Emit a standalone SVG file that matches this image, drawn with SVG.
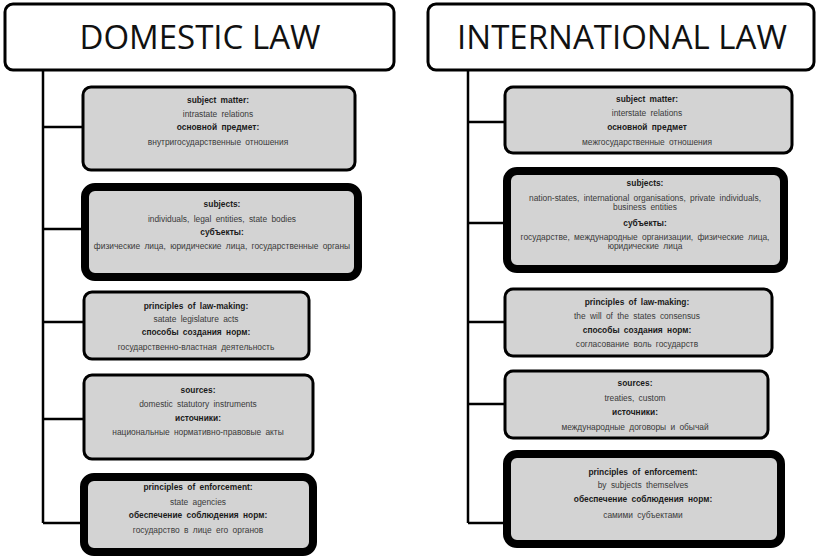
<svg xmlns="http://www.w3.org/2000/svg" width="816" height="558" viewBox="0 0 816 558">
  <style>
    .title-box { fill: #ffffff; stroke: #000; stroke-width: 3; }
    .box { fill: #d3d3d3; stroke: #000; stroke-width: 3; }
    .box-thick { fill: #d3d3d3; stroke: #000; stroke-width: 8; }
    .title { font-family: "Open Sans", "Liberation Sans", sans-serif; font-size: 33px; fill: #111; text-anchor: middle; }
    .lbl { font-family: "Liberation Sans", "Noto Sans", sans-serif; font-size: 8.4px; font-weight: bold; fill: #1a1a1a; text-anchor: middle; word-spacing: 2px; }
    .txt { font-family: "Liberation Sans", "Noto Sans", sans-serif; font-size: 8.4px; fill: #3a3a3a; text-anchor: middle; word-spacing: 2px; }
    .link { fill: none; stroke: #000; stroke-width: 2.5; }
  </style>

  <!-- connectors -->
  <g id="connectors">
    <path class="link" d="M43 70 V523 M43 127 H82 M43 229 H82 M43 322 H83 M43 419 H83 M43 523 H82"/>
    <path class="link" d="M468 70 V523 M468 122 H505 M468 223 H503 M468 322 H504 M468 404 H504 M468 523 H503"/>
  </g>

  <!-- domestic law column -->
  <g id="domestic-title">
    <rect class="title-box" x="5" y="4" width="389" height="66" rx="8"/>
    <text class="title" x="200" y="49">DOMESTIC LAW</text>
  </g>

  <g id="dom-subject-matter">
    <rect class="box" x="83" y="87" width="272" height="83" rx="8"/>
    <text class="lbl" x="218" y="103">subject matter:</text>
    <text class="txt" x="218" y="117">intrastate relations</text>
    <text class="lbl" x="218" y="130">основной предмет:</text>
    <text class="txt" x="218" y="145">внутригосударственные отношения</text>
  </g>

  <g id="dom-subjects">
    <rect class="box-thick" x="85" y="187" width="273" height="90" rx="10"/>
    <text class="lbl" x="222" y="207">subjects:</text>
    <text class="txt" x="222" y="222">individuals, legal entities, state bodies</text>
    <text class="lbl" x="222" y="235">субъекты:</text>
    <text class="txt" x="222" y="249">физические лица, юридические лица, государственные органы</text>
  </g>

  <g id="dom-law-making">
    <rect class="box" x="84" y="292" width="225" height="67" rx="8"/>
    <text class="lbl" x="196" y="309">principles of law-making:</text>
    <text class="txt" x="196" y="322">satate legislature acts</text>
    <text class="lbl" x="196" y="335">способы создания норм:</text>
    <text class="txt" x="196" y="350">государственно-властная деятельность</text>
  </g>

  <g id="dom-sources">
    <rect class="box" x="84" y="375" width="229" height="84" rx="8"/>
    <text class="lbl" x="198" y="393">sources:</text>
    <text class="txt" x="198" y="407">domestic statutory instruments</text>
    <text class="lbl" x="198" y="421">источники:</text>
    <text class="txt" x="198" y="435">национальные нормативно-правовые акты</text>
  </g>

  <g id="dom-enforcement">
    <rect class="box-thick" x="84" y="477" width="229" height="75" rx="10"/>
    <text class="lbl" x="198" y="490">principles of enforcement:</text>
    <text class="txt" x="198" y="505">state agencies</text>
    <text class="lbl" x="198" y="518">обеспечение соблюдения норм:</text>
    <text class="txt" x="198" y="533">государство в лице его органов</text>
  </g>

  <!-- international law column -->
  <g id="international-title">
    <rect class="title-box" x="428" y="4" width="386" height="66" rx="8"/>
    <text class="title" x="622" y="49">INTERNATIONAL LAW</text>
  </g>

  <g id="int-subject-matter">
    <rect class="box" x="505" y="87" width="287" height="66" rx="8"/>
    <text class="lbl" x="647" y="102">subject matter:</text>
    <text class="txt" x="647" y="116">interstate relations</text>
    <text class="lbl" x="647" y="130">основной предмет</text>
    <text class="txt" x="647" y="145">межгосударственные отношения</text>
  </g>

  <g id="int-subjects">
    <rect class="box-thick" x="507" y="171" width="277" height="98" rx="10"/>
    <text class="lbl" x="645" y="186">subjects:</text>
    <text class="txt" x="645" y="201">nation-states, international organisations, private individuals,</text>
    <text class="txt" x="645" y="210">business entities</text>
    <text class="lbl" x="645" y="226">субъекты:</text>
    <text class="txt" x="645" y="240">государстве, международные организации, физические лица,</text>
    <text class="txt" x="645" y="249">юридические лица</text>
  </g>

  <g id="int-law-making">
    <rect class="box" x="505" y="289" width="267" height="67" rx="8"/>
    <text class="lbl" x="637" y="305">principles of law-making:</text>
    <text class="txt" x="637" y="319">the will of the states consensus</text>
    <text class="lbl" x="637" y="333">способы создания норм:</text>
    <text class="txt" x="637" y="347">согласование воль государств</text>
  </g>

  <g id="int-sources">
    <rect class="box" x="505" y="371" width="263" height="67" rx="8"/>
    <text class="lbl" x="635" y="386">sources:</text>
    <text class="txt" x="635" y="401">treaties, custom</text>
    <text class="lbl" x="635" y="415">источники:</text>
    <text class="txt" x="635" y="430">международные договоры и обычай</text>
  </g>

  <g id="int-enforcement">
    <rect class="box-thick" x="507" y="454" width="274" height="90" rx="10"/>
    <text class="lbl" x="643" y="475">principles of enforcement:</text>
    <text class="txt" x="643" y="488">by subjects themselves</text>
    <text class="lbl" x="643" y="502">обеспечение соблюдения норм:</text>
    <text class="txt" x="643" y="518">самими субъектами</text>
  </g>
</svg>
